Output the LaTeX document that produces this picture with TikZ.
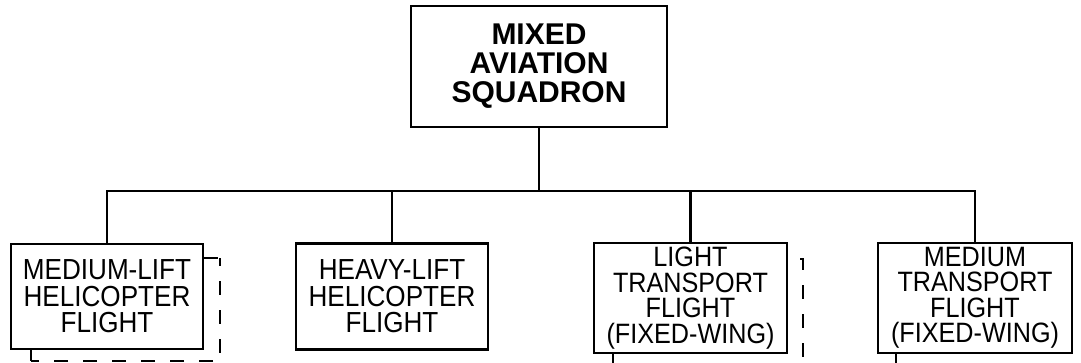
\documentclass[tikz,border=0pt]{standalone}
\usepackage{fontspec}
\newfontfamily\topfont{Liberation Sans}
\newfontfamily\boxfont[FakeStretch=0.9]{Liberation Sans}
\begin{document}
\begin{tikzpicture}[x=1pt,y=1pt,
  topbox/.style={draw,line width=2.4pt,fill=white,align=center,inner sep=0pt,
    minimum width=256pt,minimum height=121pt,
    font=\topfont\bfseries\fontsize{30}{29}\selectfont},
  unitbox/.style={draw,line width=2.4pt,fill=white,align=center,inner sep=0pt,
    font=\boxfont\fontsize{29}{26.5}\selectfont},
  smalltext/.style={font=\boxfont\fontsize{28}{25.5}\selectfont},
  link/.style={line width=2.2pt},
  shadowline/.style={line width=1.3pt,dash pattern=on 14pt off 15pt}]
\useasboundingbox (0,0) rectangle (1081,-362);
\clip (0,0) rectangle (1081,-362);
% dashed shadow outlines
\draw[shadowline] (204,-258) -- (218,-258);
\draw[shadowline,dash phase=6pt] (220,-258) -- (220,-361) -- (31,-361);
\draw[line width=1.3pt] (31,-350) -- (31,-361);
\draw[shadowline] (800,-259) -- (803,-259) -- (803,-372);
\draw[line width=1.3pt] (613,-354) -- (613,-364);
\draw[line width=1.3pt] (896,-354) -- (896,-364);
% nodes
\node[topbox] (sq) at (539,-66.5) {MIXED\\AVIATION\\SQUADRON};
\node[unitbox,minimum width=192pt,minimum height=105pt] (b1) at (107,-296.5) {MEDIUM-LIFT\\HELICOPTER\\FLIGHT};
\node[unitbox,minimum width=192pt,minimum height=106pt] (b2) at (392,-296.5) {HEAVY-LIFT\\HELICOPTER\\FLIGHT};
\node[unitbox,smalltext,minimum width=193pt,minimum height=110pt] (b3) at (690.5,-298) {LIGHT\\TRANSPORT\\FLIGHT\\(FIXED-WING)};
\node[unitbox,smalltext,minimum width=194pt,minimum height=110pt] (b4) at (975,-298) {MEDIUM\\TRANSPORT\\FLIGHT\\(FIXED-WING)};
\coordinate (bus) at (0,-191);
% connectors
\draw[link] (sq.south) -- (sq.south |- bus);
\draw[link] (b1.north) -- (b1.north |- bus) -- (b4.north |- bus) -- (b4.north);
\draw[link] (b2.north) -- (b2.north |- bus);
\draw[link] (b3.north) -- (b3.north |- bus);
\end{tikzpicture}
\end{document}
